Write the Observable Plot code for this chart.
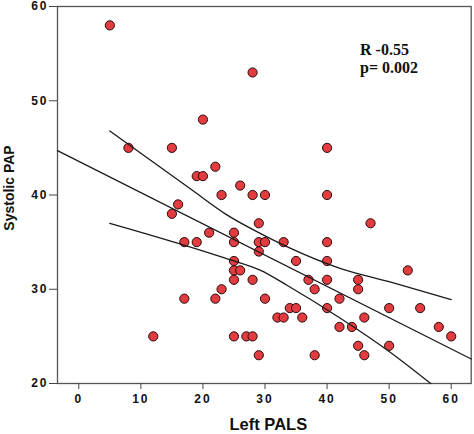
<!DOCTYPE html>
<html><head><meta charset="utf-8">
<script src="https://cdn.jsdelivr.net/npm/d3@7"></script>
<script src="https://cdn.jsdelivr.net/npm/@observablehq/plot@0.6"></script>
<style>
body{margin:0;background:#fff}
</style>
</head><body><div id="chart"></div>
<script>
const leftPALS = [5,28,20,8,15,40,22,19,20,26,23,28,30,40,16,15,29,47,21,25,17,19,25,29,30,33,40,29,25,35,40,25,26,53,25,28,37,40,45,23,38,45,17,22,30,42,34,35,40,50,55,32,33,36,46,42,44,58,12,25,27,28,60,45,50,29,38,46];
const systolicPAP = [58,53,48,45,45,45,43,42,42,41,40,40,40,40,39,38,37,37,36,36,35,35,35,35,35,35,35,34,33,33,33,32,32,32,31,31,31,31,31,30,30,30,29,29,29,29,28,28,28,28,28,27,27,27,27,26,26,26,25,25,25,25,25,24,24,23,23,23];
const xTicks = [0,10,20,30,40,50,60];
const yTicks = [20,30,40,50,60];
const fitX = [-3.43, 63.22];
const fitY = [44.7, 22.6];
const upperX = [5, 18.3, 23.6, 29.3, 33.6, 42.2, 50, 60];
const upperY = [46.8, 40.5, 38.0, 35.9, 34.5, 32.2, 30.8, 28.9];
const lowerX = [5, 23.6, 29.3, 33.6, 42.2, 50, 56.7];
const lowerY = [37.0, 33.3, 32.0, 30.4, 26.9, 23.4, 20.0];
const statsText = ["R -0.55", "p= 0.002"];
const xLabel = "Left PALS";
const yLabel = "Systolic PAP";

const points = leftPALS.map((x, i) => ({x, y: systolicPAP[i]}));
const fit = fitX.map((x, i) => ({x, y: fitY[i]}));
const upper = upperX.map((x, i) => ({x, y: upperY[i]}));
const lower = lowerX.map((x, i) => ({x, y: lowerY[i]}));
const sans = "'Liberation Sans', Arial, sans-serif";

const chart = Plot.plot({
  width: 474, height: 434,
  marginLeft: 57, marginRight: 3.3, marginTop: 6, marginBottom: 51,
  x: {domain: [fitX[0], fitX[1]]},
  y: {domain: [20, 60]},
  style: {fontFamily: sans, background: "#fff", color: "#111", overflow: "visible"},
  marks: [
    Plot.frame({stroke: "#555", strokeWidth: 1.3}),
    Plot.axisX({ticks: xTicks, tickSize: 6, tickPadding: 5, fontSize: 12, fontWeight: "bold", label: null, stroke: "#444", fill: "#111"}),
    Plot.axisY({ticks: yTicks, tickSize: 8, tickPadding: 1, fontSize: 12, fontWeight: "bold", label: null, stroke: "#444", fill: "#111"}),
    Plot.dot(points, {x: "x", y: "y", r: 4.6, fill: "#e23b40", stroke: "#2b0a0a", strokeWidth: 1}),
    Plot.line(fit, {x: "x", y: "y", stroke: "#1a1a1a", strokeWidth: 1.3}),
    Plot.line(upper, {x: "x", y: "y", stroke: "#1a1a1a", strokeWidth: 1.3, curve: "monotone-x"}),
    Plot.line(lower, {x: "x", y: "y", stroke: "#1a1a1a", strokeWidth: 1.3, curve: "monotone-x"}),
    Plot.text([statsText.join("\n")], {frameAnchor: "top-left", dx: 302.5, dy: 35.3, lineAnchor: "top", textAnchor: "start", fontFamily: "'Liberation Serif', 'Times New Roman', serif", fontWeight: "bold", fontSize: 16, lineHeight: 1.14, fill: "#111"}),
    Plot.text([xLabel], {frameAnchor: "bottom", dx: 4, dy: 41.5, lineAnchor: "middle", textAnchor: "middle", fontSize: 16.5, fontWeight: "bold", fill: "#111"}),
    Plot.text([yLabel], {frameAnchor: "left", rotate: -90, dx: -48.2, dy: -7, lineAnchor: "middle", textAnchor: "middle", fontSize: 14, fontWeight: "bold", fill: "#111"})
  ]
});
d3.select(chart).selectAll('g[aria-label="x-axis tick label"] text, g[aria-label="y-axis tick label"] text')
  .style("letter-spacing", "2px");
document.getElementById("chart").appendChild(chart);
</script>
</body></html>
